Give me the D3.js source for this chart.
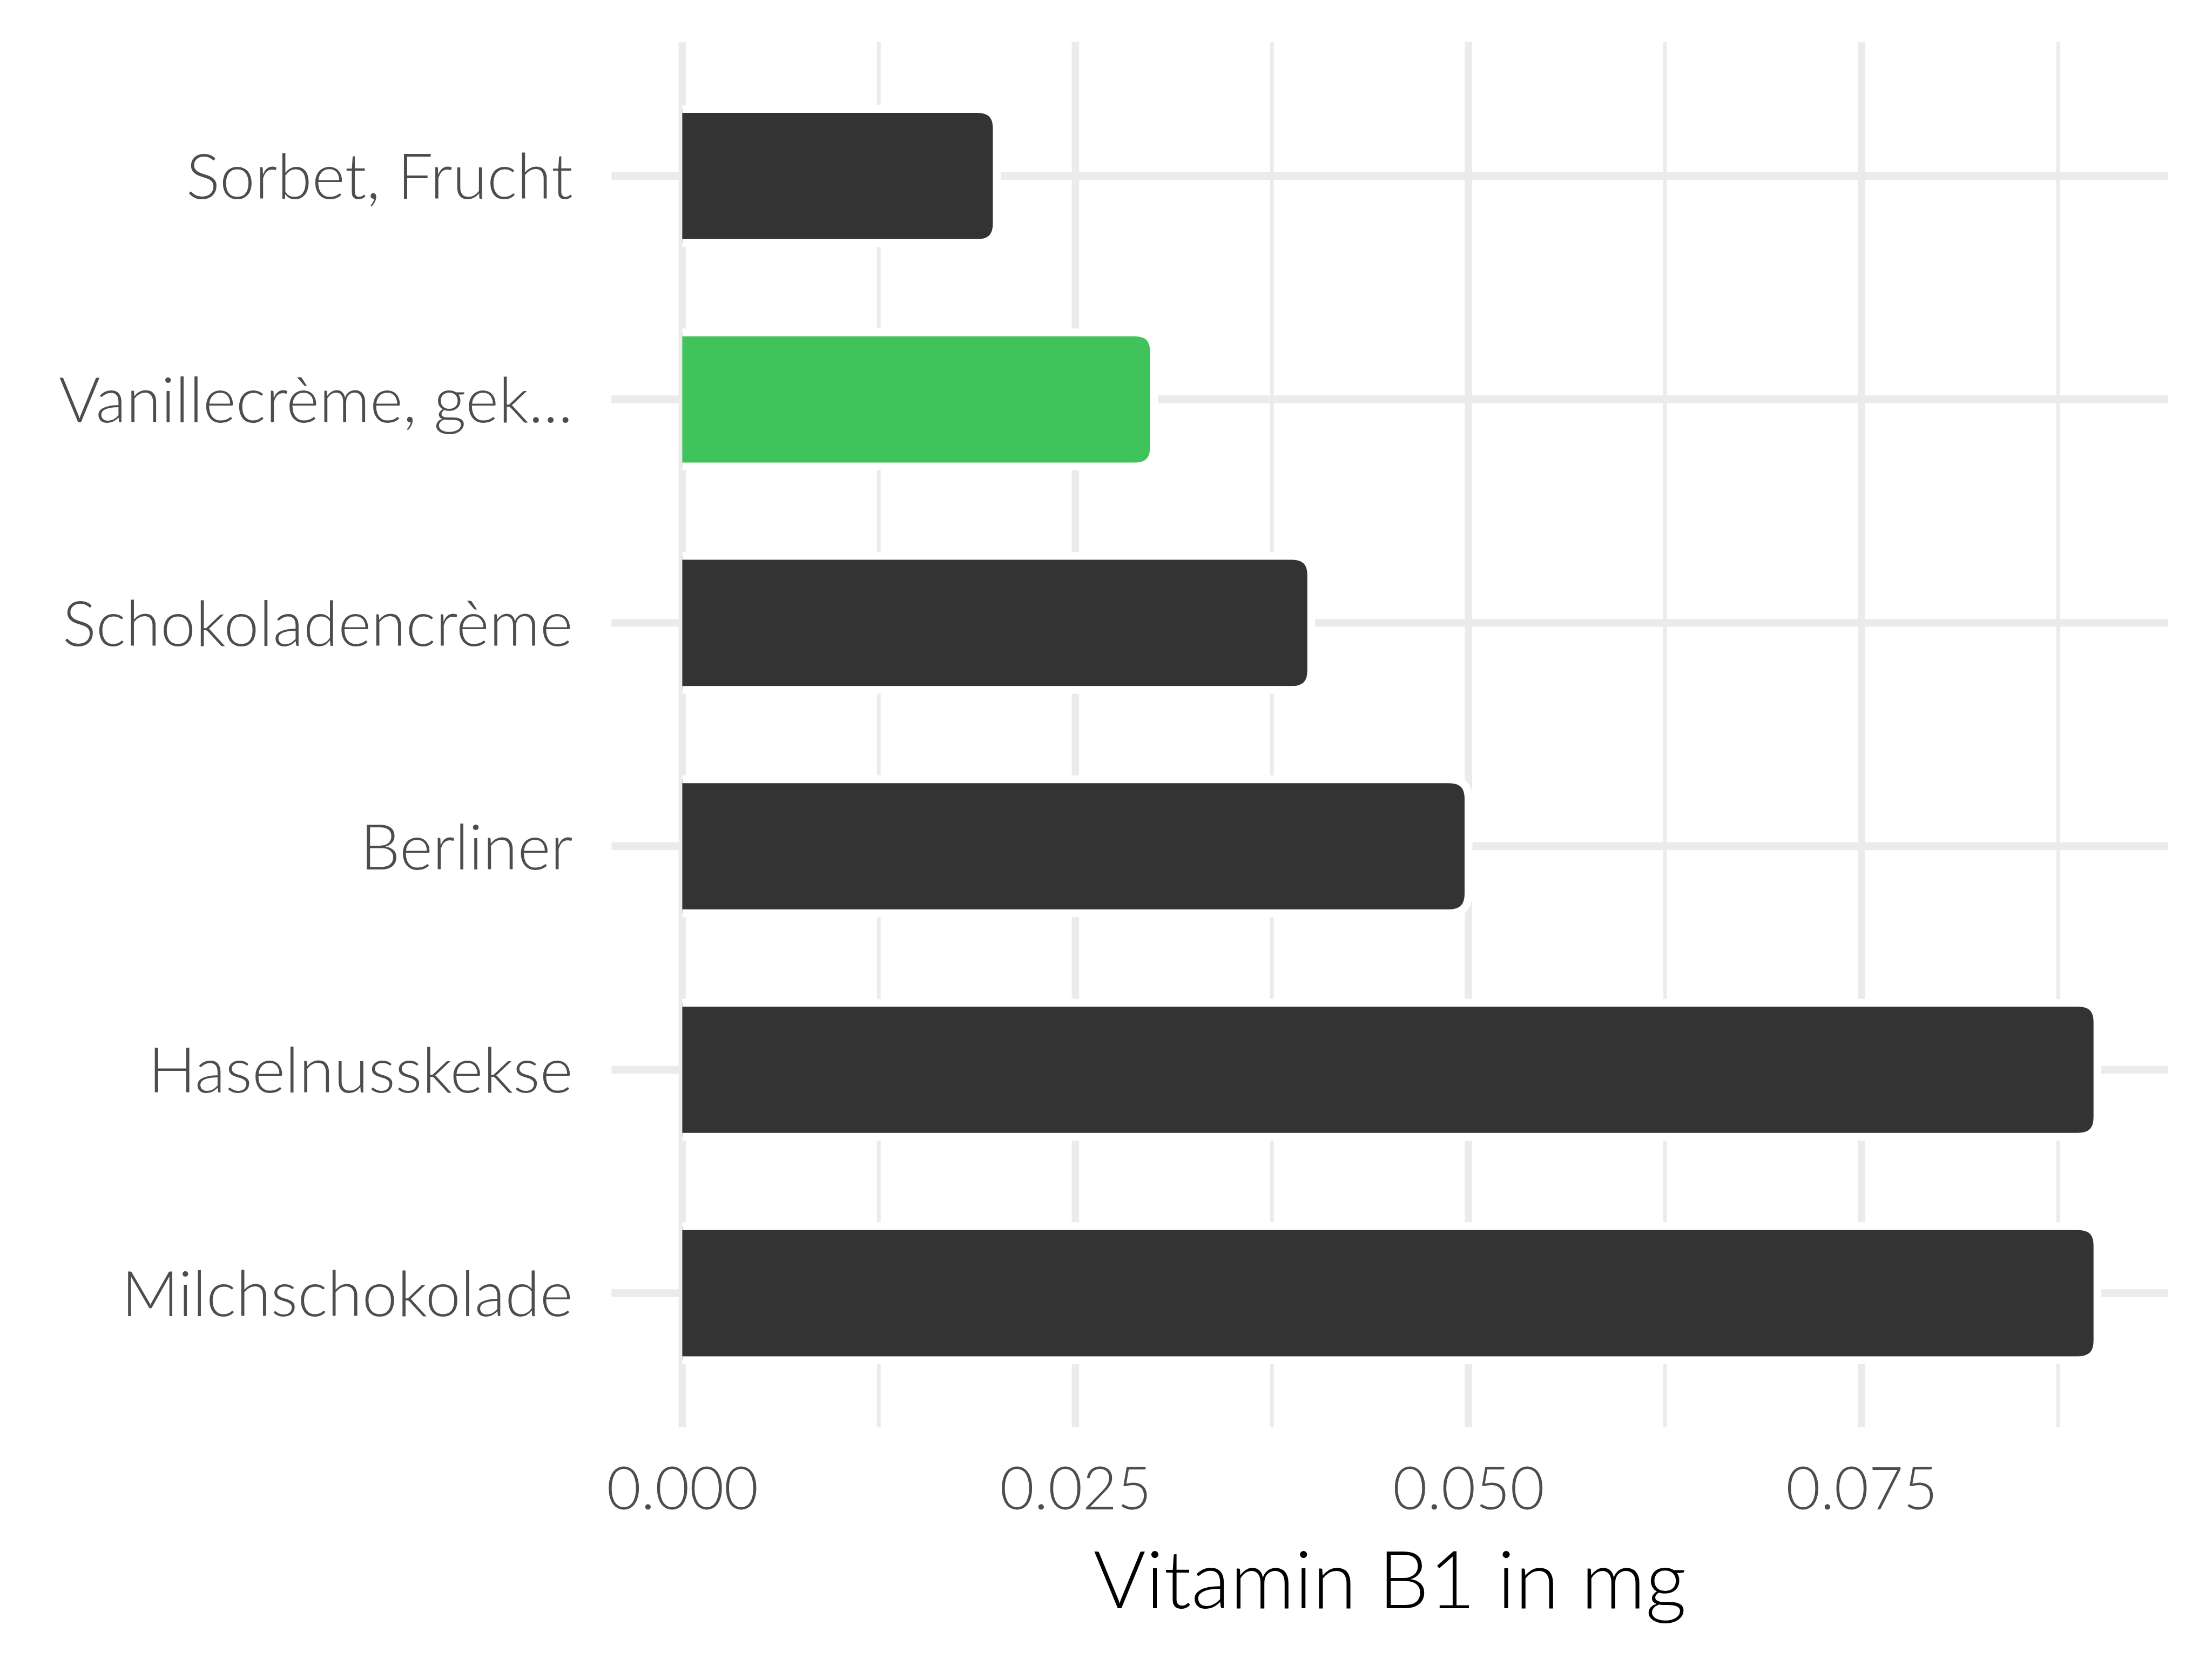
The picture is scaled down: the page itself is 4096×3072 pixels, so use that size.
<!DOCTYPE html>
<html><head><meta charset="utf-8">
<script src="https://cdn.jsdelivr.net/npm/d3@7"></script>
<style>html,body{margin:0;padding:0;background:#fff;}svg{display:block;}</style>
</head><body>
<script>
const categories = ["Sorbet, Frucht","Vanillecrème, gek...","Schokoladencrème","Berliner","Haselnusskekse","Milchschokolade"];
const values = [0.02,0.03,0.04,0.05,0.09,0.09];
const highlighted = ["Vanillecrème, gek..."];
const xTickValues = [0, 0.025, 0.05, 0.075];
const xTickLabels = ["0.000","0.025","0.050","0.075"];
const xMinorValues = [0.0125, 0.0375, 0.0625, 0.0875];
const xTitle = "Vitamin B1 in mg";

const W = 4096, H = 3072, S = 4096/4800;
const FONT = "Lato, 'Open Sans', sans-serif";
const panel = {left:1327, right:4705, top:91, bottom:3097};

const svg = d3.select("body").append("svg").attr("width",W).attr("height",H);
svg.append("rect").attr("width",W).attr("height",H).attr("fill","#fff");
const g = svg.append("g").attr("transform",`scale(${S})`);

const x = d3.scaleLinear().domain([-0.0045, 0.0945]).range([panel.left, panel.right]);
const y = d3.scalePoint().domain(categories).range([panel.top, panel.bottom]).padding(0.6);
const step = y.step();

// grid
g.selectAll(".minor").data(xMinorValues).join("line")
  .attr("x1",d=>x(d)).attr("x2",d=>x(d)).attr("y1",panel.top).attr("y2",panel.bottom)
  .attr("stroke","#EBEBEB").attr("stroke-width",8);
g.selectAll(".majx").data(xTickValues).join("line")
  .attr("x1",d=>x(d)).attr("x2",d=>x(d)).attr("y1",panel.top).attr("y2",panel.bottom)
  .attr("stroke","#EBEBEB").attr("stroke-width",16);
g.selectAll(".majy").data(categories).join("line")
  .attr("x1",panel.left).attr("x2",panel.right).attr("y1",d=>y(d)).attr("y2",d=>y(d))
  .attr("stroke","#EBEBEB").attr("stroke-width",17);

// bars
const bh = 0.6*step, r = 42;
function barPath(v, c){
  const x0 = x(0), x1 = x(v), yt = y(c)-bh/2, yb = y(c)+bh/2;
  const rr = Math.min(r, (x1-x0)/2);
  return `M${x0},${yt} L${x1-rr},${yt} Q${x1},${yt} ${x1},${yt+rr} L${x1},${yb-rr} Q${x1},${yb} ${x1-rr},${yb} L${x0},${yb}`;
}
g.selectAll(".bar").data(categories).join("path")
  .attr("d",(c,i)=>barPath(values[i],c))
  .attr("fill",c=>highlighted.includes(c)?"#3FC35A":"#333333")
  .attr("stroke","#fff").attr("stroke-width",17).attr("stroke-linejoin","round");

// x axis labels
const xAxis = d3.axisBottom(x).tickValues(xTickValues).tickSize(0).tickPadding(0)
  .tickFormat((d,i)=>xTickLabels[i]);
const xa = g.append("g").attr("transform",`translate(0,3275)`).call(xAxis);
xa.select(".domain").remove();
xa.selectAll("text").attr("font-family",FONT).attr("font-weight",300).attr("font-size",129)
  .attr("fill","#4D4D4D").attr("dy",0).attr("y",0);

// y axis labels
const yAxis = d3.axisLeft(y).tickSize(0).tickPadding(0);
const ya = g.append("g").attr("transform",`translate(1243,0)`).call(yAxis);
ya.select(".domain").remove();
ya.selectAll("text").attr("font-family",FONT).attr("font-weight",300).attr("font-size",137)
  .attr("fill","#4D4D4D").attr("dy","0.36em").attr("x",0);

// title
g.append("text").attr("x",(panel.left+panel.right)/2).attr("y",3490)
  .attr("text-anchor","middle").attr("font-family",FONT).attr("font-weight",300)
  .attr("font-size",174).attr("fill","#000").text(xTitle);
</script>
</body></html>
